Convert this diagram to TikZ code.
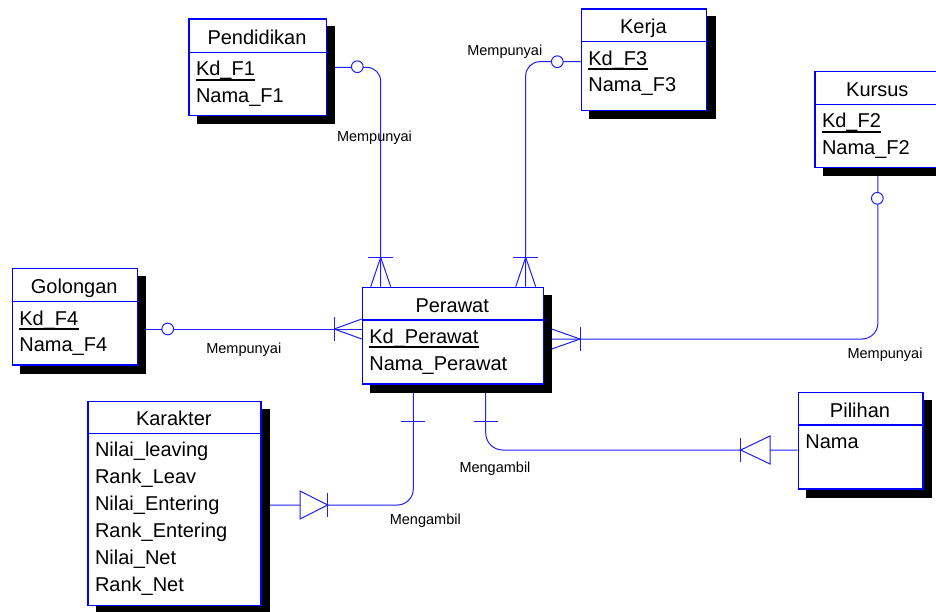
\documentclass[tikz,border=0pt]{standalone}
\usepackage{fontspec}
\setmainfont{Liberation Sans}
\usetikzlibrary{shadows,backgrounds}
\definecolor{erblue}{RGB}{0,0,255}
\definecolor{lnblue}{RGB}{30,30,255}
\begin{document}
\begin{tikzpicture}[x=1pt,y=-1pt,
  ebox/.style={draw=erblue, line width=1.2pt, fill=white, rectangle, inner sep=0pt,
    anchor=north west,
    general shadow={fill=black, draw=black, shadow xshift=8.5pt, shadow yshift=-8pt}},
  hline/.style={draw=erblue, line width=1.1pt},
  ttl/.style={anchor=base, inner sep=0pt, font=\fontsize{20}{24}\selectfont},
  attr/.style={anchor=base west, inner sep=0pt, font=\fontsize{20}{24}\selectfont},
  keyline/.style={draw=black, line width=1.8pt},
  conn/.style={draw=lnblue, line width=1pt},
  opt/.style={circle, draw=lnblue, line width=1pt, fill=white, inner sep=0pt, minimum size=11.7pt},
  tri/.style={draw=lnblue, line width=1pt, fill=white},
  rlabel/.style={inner sep=0pt, font=\fontsize{14.5}{17}\selectfont}
]
\useasboundingbox (0,0) rectangle (936,611);
\clip (0,0) rectangle (936,611);

% ---------- entity frames with drop shadows ----------
\node[ebox, minimum width=137.4pt, minimum height=96.7pt] (pend) at (188.3,18.3) {};
\node[ebox, minimum width=125.3pt, minimum height=101.7pt] (kerja) at (580.7,8.3) {};
\node[ebox, minimum width=126pt, minimum height=95.7pt] (kurs) at (814.3,71) {};
\node[ebox, minimum width=125pt, minimum height=96.6pt] (gol) at (11.7,267.7) {};
\node[ebox, minimum width=181pt, minimum height=96.6pt] (per) at (361.7,286.7) {};
\node[ebox, minimum width=173pt, minimum height=204.3pt] (kar) at (87.3,400.7) {};
\node[ebox, minimum width=124.6pt, minimum height=96.6pt] (pil) at (797.7,391.7) {};

% header separators
\draw[hline] (188.3,52.3) -- (327.5,52.3);
\draw[hline] (580.7,41.7) -- (708,41.7);
\draw[hline] (814.3,104.3) -- (940,104.3);
\draw[hline] (11.7,301.7) -- (138.5,301.7);
\draw[hline] (361.7,320) -- (544.7,320);
\draw[hline] (87.3,433.3) -- (262,433.3);
\draw[hline] (797.7,425) -- (924,425);

% ---------- relationship lines, kept underneath the frames ----------
\begin{scope}[on background layer]
\fill[white] (0,0) rectangle (936,611);

% Pendidikan -- Perawat
\coordinate (f1) at (380.7,257.3);
\draw[conn, rounded corners=14pt] (pend.east) -| (f1) -- (f1 |- per.north);
\draw[conn] ([xshift=-12.5pt]f1) -- ([xshift=12.5pt]f1);
\draw[conn] (f1) -- ([xshift=-10pt]f1 |- per.north);
\draw[conn] (f1) -- ([xshift=10pt]f1 |- per.north);
\node[opt] (o1) at (357.3,66.7) {};

% Kerja -- Perawat
\coordinate (kc) at (580.7,61.7);
\coordinate (f2) at (525.7,257.3);
\draw[conn, rounded corners=14pt] (kc) -| (f2) -- (f2 |- per.north);
\draw[conn] ([xshift=-12.5pt]f2) -- ([xshift=12.5pt]f2);
\draw[conn] (f2) -- ([xshift=-10pt]f2 |- per.north);
\draw[conn] (f2) -- ([xshift=10pt]f2 |- per.north);
\node[opt] (o2) at (557.3,61.7) {};

% Kursus -- Perawat
\coordinate (f3) at (580,339);
\draw[conn, rounded corners=16pt] (kurs.south) |- (f3) -- (f3 -| per.east);
\draw[conn] ([yshift=-12pt]f3) -- ([yshift=12pt]f3);
\draw[conn] (f3) -- (551.7,329);
\draw[conn] (f3) -- (551.7,349);
\node[opt] (o3) at (877.3,198.3) {};

% Golongan -- Perawat
\coordinate (gc) at (136.7,329);
\coordinate (f4) at (334.3,329);
\draw[conn] (gc) -- (gc -| per.west);
\draw[conn] ([yshift=-12pt]f4) -- ([yshift=12pt]f4);
\draw[conn] (f4) -- ([yshift=-10pt]f4 -| per.west);
\draw[conn] (f4) -- ([yshift=10pt]f4 -| per.west);
\node[opt] (o4) at (167.7,329) {};

% Perawat -- Karakter
\coordinate (pk) at (413.3,383.3);
\coordinate (kk) at (260.3,505);
\draw[conn, rounded corners=16pt] (pk) |- (kk);
\draw[conn] (401.3,421) -- (425.3,421);
\draw[tri] (300,491) -- (327.7,505) -- (300,519) -- cycle;
\draw[conn] (327.7,493) -- (327.7,517);

% Perawat -- Pilihan
\coordinate (pp) at (485.7,383.3);
\coordinate (pl) at (797.7,450);
\draw[conn, rounded corners=17pt] (pl) -| (pp);
\draw[conn] (473.7,421.7) -- (497.7,421.7);
\draw[tri] (770,436) -- (740.7,450) -- (770,464) -- cycle;
\draw[conn] (740.7,438) -- (740.7,462);
\end{scope}

% relationship names
\node[rlabel] (l1) at (374.5,138) {Mempunyai};
\node[rlabel] (l2) at (504.8,51.7) {Mempunyai};
\node[rlabel] (l3) at (885,355) {Mempunyai};
\node[rlabel] (l4) at (243.8,349.3) {Mempunyai};
\node[rlabel] (l5) at (425.3,520.7) {Mengambil};
\node[rlabel] (l6) at (495,468.3) {Mengambil};

% Pendidikan
\node[ttl] (tPend) at (257,44.3) {Pendidikan};
\node[attr] (aPend1) at (195.8,75.6) {Kd\_F1};
\node[attr] (aPend2) at (195.8,102.5) {Nama\_F1};
\draw[keyline] ([yshift=-4pt]aPend1.base west) -- ([yshift=-4pt]aPend1.base east);

% Kerja
\node[ttl] (tKerja) at (643.4,33.7) {Kerja};
\node[attr] (aKerja1) at (588.2,65) {Kd\_F3};
\node[attr] (aKerja2) at (588.2,91.9) {Nama\_F3};
\draw[keyline] ([yshift=-4pt]aKerja1.base west) -- ([yshift=-4pt]aKerja1.base east);

% Kursus
\node[ttl] (tKurs) at (877.3,96.3) {Kursus};
\node[attr] (aKurs1) at (821.8,127.6) {Kd\_F2};
\node[attr] (aKurs2) at (821.8,154.5) {Nama\_F2};
\draw[keyline] ([yshift=-4pt]aKurs1.base west) -- ([yshift=-4pt]aKurs1.base east);

% Golongan
\node[ttl] (tGol) at (74.2,293.7) {Golongan};
\node[attr] (aGol1) at (19.2,325) {Kd\_F4};
\node[attr] (aGol2) at (19.2,351.9) {Nama\_F4};
\draw[keyline] ([yshift=-4pt]aGol1.base west) -- ([yshift=-4pt]aGol1.base east);

% Perawat
\node[ttl] (tPer) at (452.2,312) {Perawat};
\node[attr] (aPer1) at (369.2,343.3) {Kd\_Perawat};
\node[attr] (aPer2) at (369.2,370.2) {Nama\_Perawat};
\draw[keyline] ([yshift=-4pt]aPer1.base west) -- ([yshift=-4pt]aPer1.base east);

% Karakter
\node[ttl] (tKar) at (173.8,425.3) {Karakter};
\node[attr] (aKar1) at (94.8,456.6) {Nilai\_leaving};
\node[attr] (aKar2) at (94.8,483.5) {Rank\_Leav};
\node[attr] (aKar3) at (94.8,510.4) {Nilai\_Entering};
\node[attr] (aKar4) at (94.8,537.3) {Rank\_Entering};
\node[attr] (aKar5) at (94.8,564.2) {Nilai\_Net};
\node[attr] (aKar6) at (94.8,591.1) {Rank\_Net};

% Pilihan
\node[ttl] (tPil) at (860,417) {Pilihan};
\node[attr] (aPil1) at (805.2,448.3) {Nama};
\end{tikzpicture}
\end{document}
